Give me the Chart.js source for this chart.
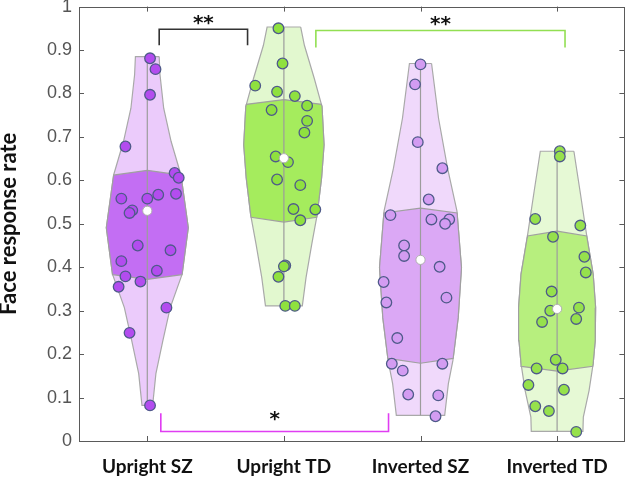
<!DOCTYPE html>
<html>
<head>
<meta charset="utf-8">
<script src="https://cdn.jsdelivr.net/npm/chart.js@4.4.1/dist/chart.umd.min.js"></script>
<style>
  html, body { margin: 0; padding: 0; background: #fff; }
  #wrap { width: 632px; height: 483px; }
</style>
</head>
<body>
<div id="wrap"><canvas id="violin"></canvas></div>
<script>
// Groups
const groups = ["Upright SZ", "Upright TD", "Inverted SZ", "Inverted TD"];

// Individual face response rates
const uprightSZ = [0.881, 0.856, 0.797, 0.678, 0.617, 0.606, 0.569, 0.567, 0.558, 0.558, 0.531,
  0.525, 0.450, 0.439, 0.414, 0.392, 0.379, 0.367, 0.355, 0.307, 0.249, 0.082];
const uprightTD = [0.950, 0.869, 0.818, 0.804, 0.794, 0.772, 0.762, 0.737, 0.710, 0.655, 0.642,
  0.602, 0.589, 0.534, 0.533, 0.508, 0.404, 0.402, 0.378, 0.311, 0.311];
const invertedSZ = [0.867, 0.821, 0.688, 0.628, 0.556, 0.520, 0.510, 0.510, 0.500, 0.450, 0.426,
  0.401, 0.366, 0.330, 0.319, 0.237, 0.178, 0.178, 0.162, 0.107, 0.105, 0.057];
const invertedTD = [0.667, 0.655, 0.511, 0.496, 0.470, 0.424, 0.388, 0.344, 0.307, 0.300, 0.281,
  0.274, 0.187, 0.167, 0.167, 0.129, 0.118, 0.080, 0.069, 0.021];

// Horizontal jitter of each dot (category units)
const uprightSZJitter = [0.02, 0.06, 0.02, -0.16, 0.20, 0.23, 0.21, 0.08, 0.00, -0.19, -0.11,
  -0.13, -0.07, 0.17, -0.19, 0.07, -0.16, -0.05, -0.21, 0.14, -0.13, 0.02];
const uprightTDJitter = [-0.04, -0.01, -0.21, -0.05, 0.08, 0.17, -0.09, 0.17, 0.15, -0.06, 0.03,
  -0.05, 0.12, 0.07, 0.23, 0.12, 0.01, 0.00, -0.04, 0.01, 0.08];
const invertedSZJitter = [0.00, -0.04, -0.02, 0.16, 0.06, -0.22, 0.08, 0.21, 0.18, -0.12, -0.12,
  0.14, -0.27, 0.19, -0.25, -0.17, -0.21, 0.16, -0.13, -0.09, 0.13, 0.11];
const invertedTDJitter = [0.02, 0.02, -0.16, 0.17, -0.03, 0.20, 0.21, -0.04, 0.16, -0.05, 0.14,
  -0.11, -0.01, -0.15, 0.04, -0.21, 0.05, -0.16, -0.06, 0.14];

// Summary stats: median, Q1, Q3
const medians = [0.530, 0.651, 0.417, 0.304];
const q1s = [0.383, 0.515, 0.190, 0.172];
const q3s = [0.612, 0.775, 0.525, 0.472];

// Violin density profiles: [value, relative density], top to bottom
const uprightSZDensity = [[0.885, 0.29], [0.843, 0.31], [0.766, 0.40], [0.690, 0.58], [0.613, 0.82],
  [0.491, 1.00], [0.384, 0.85], [0.307, 0.56], [0.231, 0.38], [0.155, 0.21], [0.082, 0.13]];
const uprightTDDensity = [[0.953, 0.41], [0.911, 0.50], [0.835, 0.74], [0.770, 0.93], [0.682, 0.98],
  [0.606, 0.92], [0.520, 0.81], [0.453, 0.68], [0.376, 0.54], [0.311, 0.45]];
const invertedSZDensity = [[0.869, 0.27], [0.743, 0.44], [0.628, 0.66], [0.529, 0.89], [0.399, 1.00],
  [0.284, 0.92], [0.185, 0.79], [0.132, 0.68], [0.059, 0.59]];
const invertedTDDensity = [[0.667, 0.41], [0.575, 0.56], [0.468, 0.73], [0.384, 0.88], [0.307, 0.94],
  [0.231, 0.93], [0.178, 0.88], [0.116, 0.78], [0.055, 0.64], [0.022, 0.63]];

// Significance brackets: x span, top level, leg bottom, label
const bracketX = [[1.087, 1.734], [2.234, 4.058], [1.099, 2.766]];
const bracketTop = [0.948, 0.945, 0.022];
const bracketLeg = [0.911, 0.906, 0.064];
const bracketLabels = ["**", "**", "*"];

const yTicks = [0, 0.1, 0.2, 0.3, 0.4, 0.5, 0.6, 0.7, 0.8, 0.9, 1];

// styling
const HALF_WIDTH = 0.30;
const BULGE = 0.011;
const outerColors = ["#ebcbfb", "#e2f8cf", "#f0d9fb", "#e6f9d5"];
const iqrColors = ["#c36ef3", "#a5ec5d", "#dba8f5", "#b7ef7e"];
const dotColors = ["#b34cef", "#8fe13f", "#d39cf2", "#96e14c"];
const bracketColors = ["#333333", "#92df52", "#e03df2"];

const values = [uprightSZ, uprightTD, invertedSZ, invertedTD];
const jitters = [uprightSZJitter, uprightTDJitter, invertedSZJitter, invertedTDJitter];
const densities = [uprightSZDensity, uprightTDDensity, invertedSZDensity, invertedTDDensity];

// half width of a violin at value v (linear between profile rows)
function widthAt(profile, v) {
  for (let i = 0; i < profile.length - 1; i++) {
    const a = profile[i], b = profile[i + 1];
    if (v <= a[0] && v >= b[0]) {
      const t = (a[0] - v) / (a[0] - b[0]);
      return (a[1] + (b[1] - a[1]) * t) * HALF_WIDTH;
    }
  }
  return profile[profile.length - 1][1] * HALF_WIDTH;
}

function outerShape(profile, cx) {
  const right = profile.map(p => ({ x: cx + p[1] * HALF_WIDTH, y: p[0] }));
  const left = profile.slice().reverse().map(p => ({ x: cx - p[1] * HALF_WIDTH, y: p[0] }));
  const pts = right.concat(left);
  pts.push(pts[0]);
  return pts;
}

function iqrShape(profile, cx, lo, hi) {
  const inner = profile.filter(p => p[0] < hi && p[0] > lo);
  const pts = [{ x: cx, y: hi + BULGE }, { x: cx + widthAt(profile, hi), y: hi }];
  inner.forEach(p => pts.push({ x: cx + p[1] * HALF_WIDTH, y: p[0] }));
  pts.push({ x: cx + widthAt(profile, lo), y: lo });
  pts.push({ x: cx, y: lo - BULGE });
  pts.push({ x: cx - widthAt(profile, lo), y: lo });
  inner.slice().reverse().forEach(p => pts.push({ x: cx - p[1] * HALF_WIDTH, y: p[0] }));
  pts.push({ x: cx - widthAt(profile, hi), y: hi });
  pts.push(pts[0]);
  return pts;
}

const datasets = [];
groups.forEach((g, i) => {
  const cx = i + 1;
  const prof = densities[i];
  datasets.push({
    type: "line", data: outerShape(prof, cx), fill: "shape",
    backgroundColor: outerColors[i], borderColor: "#a9a9a9", borderWidth: 1.2,
    pointRadius: 0, tension: 0, order: 10
  });
  datasets.push({
    type: "line", data: iqrShape(prof, cx, q1s[i], q3s[i]), fill: "shape",
    backgroundColor: iqrColors[i], borderColor: "#a0a0a0", borderWidth: 1.2,
    pointRadius: 0, tension: 0, order: 9
  });
  // whisker line at the centre
  datasets.push({
    type: "line", data: [{ x: cx, y: prof[0][0] }, { x: cx, y: prof[prof.length - 1][0] }],
    borderColor: "#9c9c9c", borderWidth: 1.2, pointRadius: 0, fill: false, order: 8
  });
  datasets.push({
    type: "scatter", data: values[i].map((v, k) => ({ x: cx + jitters[i][k], y: v })),
    backgroundColor: dotColors[i], borderColor: "#4f5a8a", borderWidth: 1.3,
    pointRadius: 5.3, order: 7
  });
  datasets.push({
    type: "scatter", data: [{ x: cx, y: medians[i] }],
    backgroundColor: "#ffffff", borderColor: "#b0b0b0", borderWidth: 1,
    pointRadius: 4.6, order: 6
  });
});

bracketX.forEach((span, i) => {
  datasets.push({
    type: "line",
    data: [{ x: span[0], y: bracketLeg[i] }, { x: span[0], y: bracketTop[i] },
      { x: span[1], y: bracketTop[i] }, { x: span[1], y: bracketLeg[i] }],
    borderColor: bracketColors[i], borderWidth: 1.6, pointRadius: 0, fill: false, order: 1
  });
});

// frame, inward ticks and star labels
const decorations = {
  id: "decorations",
  afterDatasetsDraw(chart) {
    const { ctx, chartArea: a, scales: { x, y } } = chart;
    ctx.save();
    ctx.strokeStyle = "#5a5a5a";
    ctx.lineWidth = 1;
    ctx.strokeRect(Math.round(a.left) + 0.5, Math.round(a.top) + 0.5,
      Math.round(a.right - a.left) - 1, Math.round(a.bottom - a.top));
    ctx.beginPath();
    yTicks.forEach(t => {
      const py = Math.round(y.getPixelForValue(t)) + 0.5;
      ctx.moveTo(a.left, py); ctx.lineTo(a.left + 5, py);
      ctx.moveTo(a.right - 1, py); ctx.lineTo(a.right - 6, py);
    });
    groups.forEach((g, i) => {
      const px = Math.round(x.getPixelForValue(i + 1)) + 0.5;
      ctx.moveTo(px, a.bottom); ctx.lineTo(px, a.bottom - 5);
      ctx.moveTo(px, a.top); ctx.lineTo(px, a.top + 5);
    });
    ctx.stroke();

    // stars sit above each bracket (baseline offset in px)
    ctx.fillStyle = "#111";
    ctx.font = "bold 20px 'DejaVu Sans'";
    ctx.textAlign = "center";
    ctx.textBaseline = "alphabetic";
    const lift = [0, 0, 6];
    bracketX.forEach((span, i) => {
      const mid = (span[0] + span[1]) / 2;
      const px = x.getPixelForValue(mid);
      const py = y.getPixelForValue(bracketTop[i]) - lift[i];
      ctx.fillText(bracketLabels[i], px, py);
    });
    ctx.restore();
  }
};

new Chart(document.getElementById("violin"), {
  type: "scatter",
  data: { datasets },
  options: {
    responsive: true,
    maintainAspectRatio: false,
    animation: false,
    layout: { padding: { top: 5, right: 1, left: 0, bottom: 0 } },
    plugins: { legend: { display: false }, tooltip: { enabled: false } },
    scales: {
      x: {
        type: "linear", min: 0.5, max: 4.5,
        grid: { display: false, drawTicks: false },
        border: { display: false },
        afterBuildTicks: s => { s.ticks = groups.map((g, i) => ({ value: i + 1 })); },
        afterFit: s => { s.height = 42; s.paddingLeft = 0; s.paddingRight = 0; },
        ticks: {
          callback: v => groups[v - 1] || "",
          color: "#111", padding: 14, maxRotation: 0,
          font: { family: "Lato", weight: "bold", size: 19 }
        }
      },
      y: {
        min: 0, max: 1,
        grid: { display: false, drawTicks: false },
        border: { display: false },
        afterBuildTicks: s => { s.ticks = yTicks.map(v => ({ value: v })); },
        afterFit: s => { s.width = 79; s.paddingTop = 0; s.paddingBottom = 0; },
        ticks: {
          color: "#555", padding: 7,
          callback: v => String(Number(v.toFixed(1))),
          font: { family: "Liberation Sans", size: 18 }
        },
        title: {
          display: true, text: "Face response rate", color: "#111",
          padding: { top: -4, bottom: 0 },
          font: { family: "Lato", weight: "bold", size: 22 }
        }
      }
    }
  },
  plugins: [decorations]
});
</script>
</body>
</html>
